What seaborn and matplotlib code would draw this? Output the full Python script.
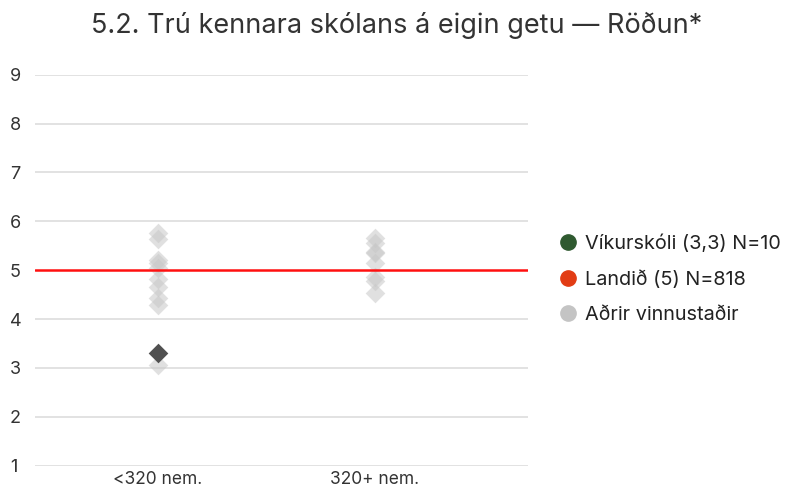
import matplotlib
matplotlib.use("Agg")
import matplotlib.pyplot as plt
from matplotlib.lines import Line2D
import seaborn as sns
import pandas as pd

# Schools grouped by size, score on "Röðun" scale
categories = ["<320 nem.", "320+ nem."]
small_schools = [5.76, 5.63, 5.21, 5.14, 5.04, 4.83, 4.66, 4.43, 4.29, 3.06]
large_schools = [5.65, 5.55, 5.38, 5.35, 5.14, 4.87, 4.77, 4.53]
school_name = "Víkurskóli"
school_group = "<320 nem."
school_value = 3.3
school_n = 10
national_value = 5
national_n = 818
y_ticks = [1, 2, 3, 4, 5, 6, 7, 8, 9]

sns.set_theme(style="white")
plt.rcParams["font.family"] = ["Inter", "DejaVu Sans"]

others = pd.DataFrame({
    "hópur": [categories[0]] * len(small_schools) + [categories[1]] * len(large_schools),
    "gildi": small_schools + large_schools,
})
school = pd.DataFrame({"hópur": [school_group], "gildi": [school_value]})

fig = plt.figure(figsize=(7.85, 4.91), dpi=100)
ax = fig.add_axes([35 / 785, 1 - 465.7 / 491, 493 / 785, (465.7 - 74.7) / 491])

for y in y_ticks:
    if y != national_value:
        ax.axhline(y, color="#dddddd", lw=1.2, zorder=0)

sns.stripplot(data=others, x="hópur", y="gildi", order=categories, jitter=False,
              marker="D", s=10, color="#c8c8c8", alpha=0.55, linewidth=0,
              ax=ax, zorder=2, clip_on=False)
sns.stripplot(data=school, x="hópur", y="gildi", order=categories, jitter=False,
              marker="D", s=10, color="#505050", linewidth=0,
              ax=ax, zorder=4, clip_on=False)

ax.axhline(national_value, color="#ff1010", lw=1.8, zorder=3)

ax.set_xlim(-0.567, 1.705)
ax.set_ylim(1, 9)
ax.set_yticks(y_ticks)
ax.set_yticklabels([str(v) for v in y_ticks], fontsize=13, color="#333333", ha="left")
ax.tick_params(axis="y", length=0, pad=18)
ax.tick_params(axis="x", length=0, pad=4, labelsize=12.5, labelcolor="#333333")
ax.set_xlabel("")
ax.set_ylabel("")
for s in ax.spines.values():
    s.set_visible(False)

fig.suptitle("5.2. Trú kennara skólans á eigin getu — Röðun*", x=0.505, y=0.975,
             fontsize=19.5, color="#333333")

handles = [
    Line2D([], [], marker="o", ls="", ms=11, color="#2f5a30"),
    Line2D([], [], marker="o", ls="", ms=11, color="#e23c14"),
    Line2D([], [], marker="o", ls="", ms=11, color="#c4c4c4"),
]
labels = [
    f"{school_name} ({school_value:.1f}".replace(".", ",") + f") N={school_n}",
    f"Landið ({national_value:.0f}) N={national_n}",
    "Aðrir vinnustaðir",
]
fig.legend(handles, labels, loc="center left", bbox_to_anchor=(534 / 785, 1 - 279 / 491),
           frameon=False, fontsize=14.3, handletextpad=0.05, labelspacing=0.86,
           handlelength=1.6, labelcolor="#222222")

fig.savefig("out.png", dpi=100)
